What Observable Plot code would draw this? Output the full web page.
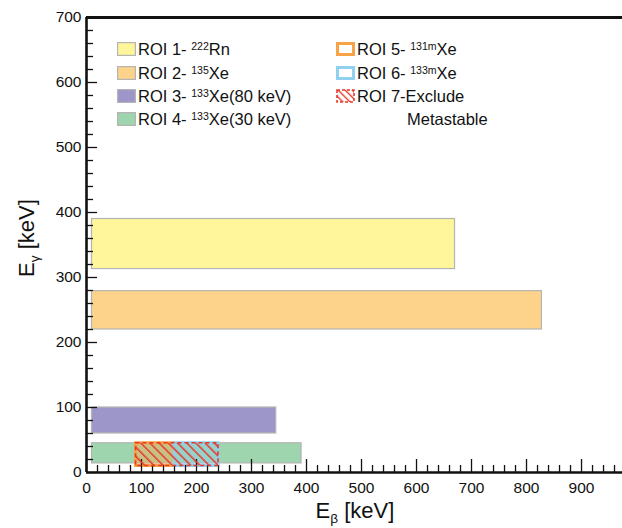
<!DOCTYPE html>
<html><head><meta charset="utf-8">
<script src="https://cdn.jsdelivr.net/npm/d3@7"></script>
<script src="https://cdn.jsdelivr.net/npm/@observablehq/plot@0.6"></script>
<style>
body{margin:0;background:#fff;}
#wrap{position:relative;width:622px;height:528px;font-family:"Liberation Sans",Arial,Helvetica,sans-serif;color:#111;overflow:hidden;}
#wrap > svg{position:absolute;left:0;top:0;}
.legend{position:absolute;left:0;top:0;font-size:16.5px;line-height:1;}
.legend .item{position:absolute;white-space:nowrap;display:flex;align-items:center;height:18px;}
.legend .sw{display:block;margin-right:2px;}
sup{font-size:0.64em;vertical-align:0.5em;line-height:0;}
sub{font-size:0.62em;vertical-align:-0.4em;line-height:0;}
.title{position:absolute;font-size:22px;white-space:nowrap;}
</style></head><body>
<div id="wrap"></div>
<script>
// ROI boxes (E_beta range, E_gamma range) in keV
const roiIds   = [1, 2, 3, 4, 5, 6, 7];
const roiBeta1 = [10, 10, 10, 10, 90, 160, 90];
const roiBeta2 = [670, 828, 345, 391, 160, 240, 240];
const roiGam1  = [313, 220, 60, 14, 10, 10, 10];
const roiGam2  = [390, 279, 100, 45, 45, 45, 45];

// legend text
const legPrefix = ["ROI 1- ", "ROI 2- ", "ROI 3- ", "ROI 4- ", "ROI 5- ", "ROI 6- ", "ROI 7-Exclude"];
const legMass   = ["222", "135", "133", "133", "131m", "133m", ""];
const legSuffix = ["Rn", "Xe", "Xe(80 keV)", "Xe(30 keV)", "Xe", "Xe", ""];
const legExtra  = "Metastable";

// axis ticks
const xMajor = [0, 100, 200, 300, 400, 500, 600, 700, 800, 900];
const xMinor = d3.range(0, 975, 20).filter(v => v % 100 !== 0);
const yMajor = [0, 100, 200, 300, 400, 500, 600, 700];
const yMinor = d3.range(0, 700, 20).filter(v => v % 100 !== 0);

const xLabel = "E<sub>β</sub> [keV]";
const yLabel = "E<sub>γ</sub> [keV]";

// styles
const roiStyle = {
  1: {fill: "#fff69b", stroke: "#b4b4b4", sw: 1.2},
  2: {fill: "#fdd38c", stroke: "#b4b4b4", sw: 1.2},
  3: {fill: "#9d97c9", stroke: "#b4b4b4", sw: 1.2},
  4: {fill: "#9ed4ae", stroke: "#b4b4b4", sw: 1.2},
  5: {fill: "rgba(250,170,80,0.45)", stroke: "#f8a446", sw: 3},
  6: {fill: "rgba(140,208,240,0.45)", stroke: "#8fd1ef", sw: 3},
  7: {fill: "url(#hatch)", stroke: "#e8382c", sw: 1.6, dash: "4 3"}
};

const rois = roiIds.map((id, i) => ({id, x1: roiBeta1[i], x2: roiBeta2[i], y1: roiGam1[i], y2: roiGam2[i]}));
const solid = rois.filter(d => d.id <= 6);
const hatch = rois.filter(d => d.id === 7);

const W = 622, H = 528;
const mL = 86, mR = 0, mT = 17, mB = 56;
const frameW = W - mL - mR, frameH = H - mT - mB;
const tickStyle = {stroke: "#111", strokeWidth: 1.3};

const plot = Plot.plot({
  width: W, height: H,
  marginLeft: mL, marginRight: mR, marginTop: mT, marginBottom: mB,
  x: {domain: [0, 974.5]},
  y: {domain: [0, 700]},
  style: {background: "white", fontFamily: "'Liberation Sans', Arial, sans-serif", color: "#111"},
  marks: [
    Plot.rect(solid, {x1: "x1", x2: "x2", y1: "y1", y2: "y2",
      fill: d => roiStyle[d.id].fill, stroke: d => roiStyle[d.id].stroke, strokeWidth: d => roiStyle[d.id].sw}),
    // inward ticks (full-frame rules shortened with pixel insets)
    Plot.ruleX(xMajor, {x: d => d, insetTop: frameH - 13, ...tickStyle}),
    Plot.ruleX(xMinor, {x: d => d, insetTop: frameH - 7, ...tickStyle}),
    Plot.ruleY(yMajor, {y: d => d, insetRight: frameW - 11, ...tickStyle}),
    Plot.ruleY(yMinor, {y: d => d, insetRight: frameW - 7, ...tickStyle}),
    // frame
    Plot.ruleX([0], {stroke: "#111", strokeWidth: 2.6}),
    Plot.ruleY([0], {stroke: "#111", strokeWidth: 2.6}),
    Plot.ruleY([700], {stroke: "#111", strokeWidth: 3}),
    Plot.axisX({ticks: xMajor, tickSize: 0, tickPadding: 9, fontSize: 15.5, label: null}),
    Plot.axisY({ticks: yMajor, tickSize: 0, tickPadding: 5, fontSize: 15.5, label: null}),
    // hatched exclusion box drawn last
    Plot.rect(hatch, {x1: "x1", x2: "x2", y1: "y1", y2: "y2",
      fill: roiStyle[7].fill, stroke: roiStyle[7].stroke, strokeWidth: roiStyle[7].sw, strokeDasharray: roiStyle[7].dash})
  ]
});

// hatch pattern inside the chart svg, appended at the end
const defs = d3.select(plot).append("defs");
const pat = defs.append("pattern").attr("id", "hatch").attr("patternUnits", "userSpaceOnUse")
  .attr("width", 6.5).attr("height", 6.5).attr("patternTransform", "rotate(-45)");
pat.append("rect").attr("x", 0).attr("y", 0).attr("width", 1.5).attr("height", 6.5).attr("fill", "#e8382c");

const wrap = document.getElementById("wrap");
wrap.appendChild(plot);

// legend
const leg = document.createElement("div");
leg.className = "legend";
wrap.appendChild(leg);

function swatch(id) {
  const s = roiStyle[id];
  if (id <= 4) return `<svg class="sw" width="19" height="14"><rect x="0.6" y="0.6" width="17.8" height="12.8" fill="${s.fill}" stroke="${s.stroke}" stroke-width="1.2"/></svg>`;
  if (id <= 6) return `<svg class="sw" width="19" height="14"><rect x="1.5" y="1.5" width="16" height="11" fill="white" stroke="${s.stroke}" stroke-width="3"/></svg>`;
  return `<svg class="sw" width="19" height="14"><defs><pattern id="hatchL" patternUnits="userSpaceOnUse" width="5" height="5" patternTransform="rotate(-45)"><rect x="0" y="0" width="1.4" height="5" fill="#e8382c"/></pattern></defs><rect x="1" y="1" width="17" height="12" fill="url(#hatchL)" stroke="#e8382c" stroke-width="1.6" stroke-dasharray="3 2"/></svg>`;
}
const rowY = [49, 73, 96, 119];
roiIds.forEach((id, i) => {
  const col = i < 4 ? 0 : 1;
  const row = i < 4 ? i : i - 4;
  const el = document.createElement("div");
  el.className = "item";
  el.style.left = (col === 0 ? 117 : 336) + "px";
  el.style.top = (rowY[row] - 9) + "px";
  el.innerHTML = swatch(id) + `<span>${legPrefix[i]}${legMass[i] ? "<sup>" + legMass[i] + "</sup>" : ""}${legSuffix[i]}</span>`;
  leg.appendChild(el);
});
const extra = document.createElement("div");
extra.className = "item";
extra.style.left = "407px"; extra.style.top = (rowY[3] - 9) + "px";
extra.textContent = legExtra;
leg.appendChild(extra);

// axis titles
const xt = document.createElement("div");
xt.className = "title";
xt.innerHTML = xLabel;
xt.style.left = "355px"; xt.style.top = "511px";
xt.style.transform = "translate(-50%,-50%)";
wrap.appendChild(xt);

const yt = document.createElement("div");
yt.className = "title";
yt.innerHTML = yLabel;
yt.style.left = "27px"; yt.style.top = "238px";
yt.style.transform = "translate(-50%,-50%) rotate(-90deg)";
wrap.appendChild(yt);
</script>
</body></html>
